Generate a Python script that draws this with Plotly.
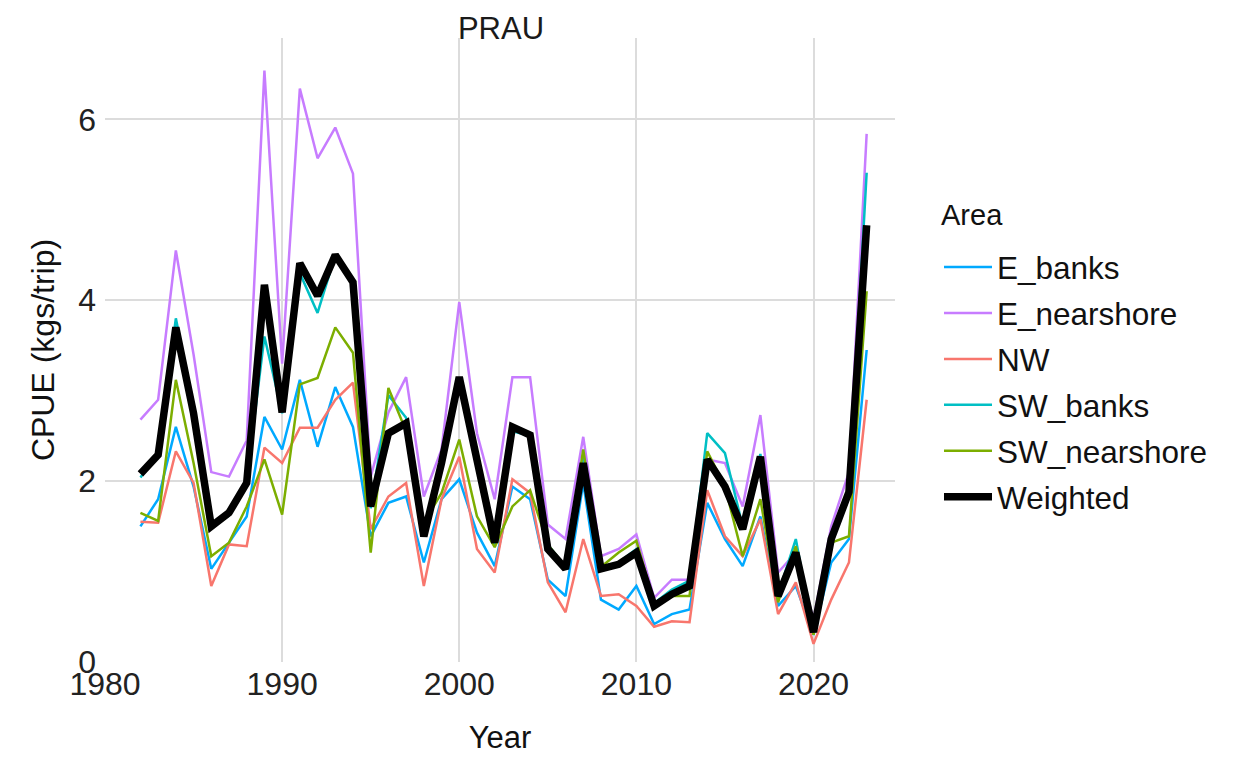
import plotly.graph_objects as go

years = list(range(1982, 2024))

e_banks = [1.50, 1.80, 2.60, 1.94, 1.03, 1.32, 1.61, 2.71, 2.35, 3.12, 2.38, 3.04, 2.60, 1.39,
           1.76, 1.83, 1.10, 1.80, 2.02, 1.43, 1.06, 1.94, 1.80, 0.91, 0.73, 1.98, 0.69, 0.58,
           0.84, 0.42, 0.53, 0.58, 1.76, 1.36, 1.06, 1.61, 0.62, 0.84, 0.30, 1.10, 1.36, 3.45]
e_nearshore = [2.68, 2.90, 4.55, 3.40, 2.10, 2.05, 2.45, 6.54, 3.30, 6.34, 5.57, 5.91, 5.40, 2.05,
               2.76, 3.15, 1.83, 2.35, 3.98, 2.53, 1.80, 3.15, 3.15, 1.52, 1.36, 2.49, 1.17, 1.25,
               1.41, 0.71, 0.91, 0.91, 2.24, 2.20, 1.72, 2.73, 0.99, 1.21, 0.47, 1.50, 2.10, 5.84]
nw = [1.55, 1.54, 2.33, 1.98, 0.84, 1.30, 1.28, 2.37, 2.20, 2.59, 2.59, 2.90, 3.09, 1.47,
      1.83, 1.98, 0.84, 1.80, 2.27, 1.25, 0.99, 2.02, 1.87, 0.88, 0.55, 1.36, 0.73, 0.75,
      0.62, 0.39, 0.45, 0.44, 1.90, 1.39, 1.17, 1.58, 0.53, 0.88, 0.20, 0.69, 1.10, 2.90]
sw_banks = [2.04, 2.30, 3.80, 2.80, 1.50, 1.62, 2.00, 3.60, 2.75, 4.30, 3.86, 4.50, 4.20, 1.70,
            2.95, 2.70, 1.40, 2.20, 3.10, 2.20, 1.30, 2.55, 2.50, 1.30, 1.05, 2.30, 1.05, 1.10,
            1.25, 0.65, 0.80, 0.90, 2.53, 2.31, 1.50, 2.30, 0.75, 1.36, 0.30, 1.30, 1.90, 5.41]
sw_nearshore = [1.65, 1.56, 3.12, 2.20, 1.17, 1.32, 1.72, 2.24, 1.63, 3.07, 3.14, 3.70, 3.42, 1.21,
                3.03, 2.55, 1.54, 1.87, 2.46, 1.61, 1.27, 1.72, 1.90, 1.30, 1.05, 2.35, 1.05, 1.21,
                1.34, 0.66, 0.73, 0.73, 2.33, 1.94, 1.17, 1.80, 0.66, 1.28, 0.30, 1.32, 1.39, 4.10]
weighted = [2.08, 2.29, 3.70, 2.75, 1.50, 1.65, 1.98, 4.17, 2.76, 4.41, 4.05, 4.50, 4.20, 1.72,
            2.53, 2.64, 1.39, 2.20, 3.15, 2.20, 1.32, 2.60, 2.51, 1.25, 1.03, 2.20, 1.03, 1.08,
            1.21, 0.62, 0.75, 0.84, 2.24, 1.94, 1.47, 2.27, 0.73, 1.21, 0.33, 1.36, 1.88, 4.83]

area_names = ["E_banks", "E_nearshore", "NW", "SW_banks", "SW_nearshore", "Weighted"]
area_values = [e_banks, e_nearshore, nw, sw_banks, sw_nearshore, weighted]
area_colors = ["#00A9FF", "#C77CFF", "#F8766D", "#00BFC4", "#7CAE00", "#000000"]
area_widths = [2.5, 2.5, 2.5, 2.5, 2.5, 7.5]

x_ticks = [1980, 1990, 2000, 2010, 2020]
y_ticks = [0, 2, 4, 6]

FONT = "Liberation Sans, Arial, sans-serif"

fig = go.Figure()
for name, vals, col, w in zip(area_names, area_values, area_colors, area_widths):
    fig.add_trace(go.Scatter(
        x=years, y=vals, mode="lines", name=name, legendgroup=name,
        line=dict(color=col, width=w),
    ))

# page has an 8px body margin; work in page pixels and convert
OFF = 8
W, H = 1257 - OFF, 773 - OFF
PL, PR, PT, PB = 105, 895, 38, 662          # plot area in page pixels
L, R, T, B = PL - OFF, (W + OFF) - PR, PT - OFF, (H + OFF) - PB
pw, ph = PR - PL, PB - PT

def px2paper_x(px):
    return (px - PL) / pw

def py2paper_y(py):
    return (PB - py) / ph

fig.update_layout(
    width=W, height=H,
    margin=dict(l=L, r=R, t=T, b=B, autoexpand=False),
    paper_bgcolor="white", plot_bgcolor="white",
    font=dict(family=FONT, color="#1a1a1a"),
    title=dict(text="PRAU", x=px2paper_x(501), xref="paper", xanchor="center",
               y=1 - (28 - OFF) / H, yanchor="middle", font=dict(size=31, color="#1a1a1a")),
    xaxis=dict(range=[1980, 2024.6], tickvals=x_ticks, showgrid=True, gridcolor="#dcdcdc",
               gridwidth=1.6, zeroline=False, showline=False, ticks="",
               tickfont=dict(size=32, color="#222222"),
               title=dict(text="Year", font=dict(size=31, color="#111111"), standoff=25)),
    yaxis=dict(range=[0, 6.9], tickvals=y_ticks, showgrid=True, gridcolor="#dcdcdc",
               gridwidth=1.6, zeroline=False, showline=False, ticks="",
               ticklabelstandoff=8,
               tickfont=dict(size=32, color="#222222"),
               title=dict(text="CPUE (kgs/trip)", font=dict(size=32, color="#111111"), standoff=14)),
    legend=dict(x=px2paper_x(939), xanchor="left", y=py2paper_y(240), yanchor="top",
                font=dict(size=31.5, color="#111111"), tracegroupgap=2, itemwidth=48,
                traceorder="grouped", bgcolor="rgba(0,0,0,0)"),
    annotations=[dict(text="Area", xref="paper", yref="paper",
                      x=px2paper_x(939), y=py2paper_y(215), xanchor="left", yanchor="middle",
                      showarrow=False, font=dict(size=29, color="#111111"))],
    showlegend=True,
)

fig.write_html("out.html")
